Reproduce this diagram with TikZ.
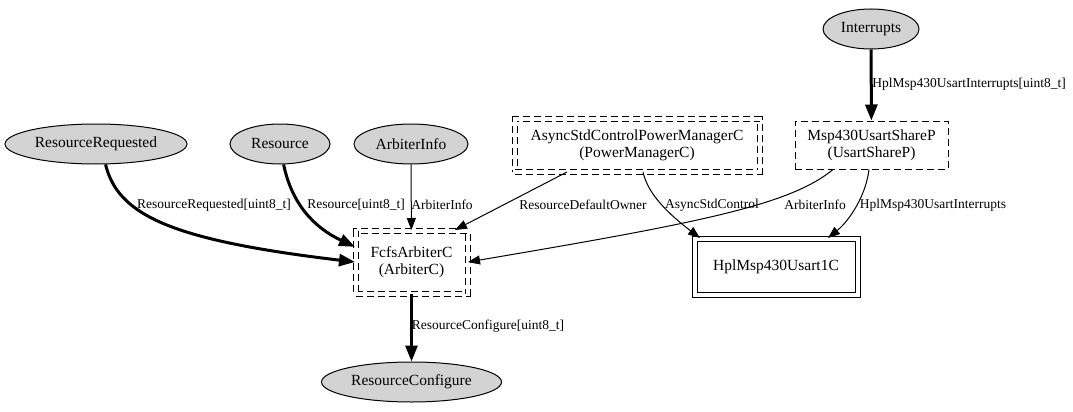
\documentclass[tikz,border=0pt]{standalone}
\usepackage{fontspec}
\setmainfont{Liberation Serif}
\usetikzlibrary{shapes.geometric,arrows.meta,positioning}
\definecolor{ifgray}{RGB}{211,211,211}
\newcommand*{\nfont}{\fontsize{15.5}{17}\selectfont}
\newcommand*{\lfont}{\fontsize{13.5}{15}\selectfont}

\begin{document}
\begin{tikzpicture}[ %可选参数设置此图的属性
        ->, % 有向图
        >={Triangle[length=12pt,width=9pt]}, % 箭头为实心三角
        x=1pt, y=1pt, % 坐标以像素为单位
        line width=1pt, % 细线
      ]
      \tikzstyle{iface}=[ellipse, draw, fill=ifgray, inner sep=0pt, minimum height=40pt, font=\nfont] % 接口节点
      \tikzstyle{gencomp}=[rectangle, draw, dash pattern=on 7pt off 4pt, double, double distance=4pt, align=center, font=\nfont] % 泛型组件
      \tikzstyle{modcomp}=[rectangle, draw, dash pattern=on 7pt off 4pt, align=center, font=\nfont] % 模块
      \tikzstyle{cfgcomp}=[rectangle, draw, double, double distance=4pt, font=\nfont] % 配置
      \tikzstyle{wire}=[line width=3pt, >={Triangle[length=16pt,width=12pt]}] % 粗连线
      \tikzstyle{lab}=[font=\lfont, inner sep=0pt] % 连线标签
      \useasboundingbox (0,0) rectangle (1073,-412);
      %% node
      \node[iface, minimum width=96pt] (int) at (871,-29) {Interrupts};
      \node[iface, minimum width=182pt] (rr) at (96,-144) {ResourceRequested};
      \node[iface, minimum width=100pt] (res) at (280,-144) {Resource};
      \node[iface, minimum width=114pt] (ai) at (411,-144) {ArbiterInfo};
      \node[gencomp, minimum width=245pt, minimum height=53pt] (pm) at (637,-145) {AsyncStdControlPowerManagerC\\(PowerManagerC)};
      \node[modcomp, minimum width=153pt, minimum height=48pt] (sp) at (871.5,-145) {Msp430UsartShareP\\(UsartShareP)};
      \node[gencomp, minimum width=112pt, minimum height=63pt] (fcfs) at (411.5,-262) {FcfsArbiterC\\(ArbiterC)};
      \node[cfgcomp, minimum width=163pt, minimum height=56pt] (hpl) at (776,-266.5) {HplMsp430Usart1C};
      \node[iface, minimum width=180pt] (rc) at (411.5,-382) {ResourceConfigure};
      %% path
      \draw[wire] (int) -- (sp);
      \draw[wire] (rr.-65) .. controls (118,-215) and (170,-240) .. (fcfs.west);
      \draw[wire] (res.-80) .. controls (292,-205) and (315,-228) .. (fcfs.165);
      \draw (ai) -- (fcfs);
      \draw ([xshift=-70pt]pm.south) -- ([xshift=43.5pt]fcfs.north);
      \draw ([xshift=6pt]pm.south) .. controls (648,-195) and (670,-215) .. ([xshift=6pt]hpl.north west);
      \draw ([xshift=-38.5pt]sp.south) .. controls (790,-205) and (700,-222.7) .. (fcfs.east);
      \draw ([xshift=-2.5pt]sp.south) .. controls (866,-195) and (850,-220) .. ([xshift=52pt]hpl.north);
      \draw[wire] (fcfs) -- (rc);
      %% label
      \node[lab] (lint) at (969,-84) {HplMsp430UsartInterrupts[uint8\_t]};
      \node[lab] (lrr) at (214,-205) {ResourceRequested[uint8\_t]};
      \node[lab] (lres) at (356,-205) {Resource[uint8\_t]};
      \node[lab] (lai) at (442,-205) {ArbiterInfo};
      \node[lab] (ldef) at (583,-205) {ResourceDefaultOwner};
      \node[lab] (lasc) at (712,-205) {AsyncStdControl};
      \node[lab] (lai2) at (815,-205) {ArbiterInfo};
      \node[lab] (lhpl) at (933,-205) {HplMsp430UsartInterrupts};
      \node[lab] (lrc) at (488,-326) {ResourceConfigure[uint8\_t]};
\end{tikzpicture}
\end{document}
